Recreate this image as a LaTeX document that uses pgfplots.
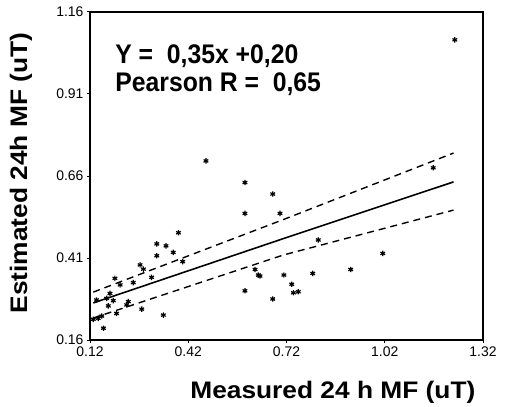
\documentclass[border=0pt]{standalone}
\usepackage{fontspec}
\setmainfont{Liberation Sans}
\newfontfamily\labfont[FakeStretch=1.1]{Liberation Sans Bold}
\newfontfamily\annfont[FakeStretch=0.92]{Liberation Sans Bold}
\usepackage{pgfplots}
\pgfplotsset{compat=1.18}

\pgfplotstableread{
x y
1.234 1.075
0.474 0.706
0.593 0.640
0.678 0.605
0.593 0.546
0.700 0.546
1.168 0.685
0.390 0.487
0.324 0.453
0.352 0.447
0.374 0.427
0.324 0.417
0.403 0.399
0.817 0.465
1.014 0.424
0.273 0.389
0.283 0.376
0.624 0.375
0.634 0.358
0.639 0.355
0.712 0.358
0.800 0.363
0.916 0.375
0.736 0.330
0.741 0.304
0.756 0.307
0.593 0.310
0.678 0.285
0.308 0.351
0.252 0.335
0.196 0.348
0.212 0.328
0.181 0.302
0.171 0.287
0.191 0.280
0.237 0.277
0.140 0.282
0.176 0.264
0.278 0.254
0.344 0.236
0.201 0.241
0.232 0.267
0.145 0.226
0.156 0.233
0.161 0.196
0.130 0.223
}\pts

\begin{document}
\begin{tikzpicture}
\useasboundingbox (-90bp,-67bp) rectangle (424bp,340bp);
\begin{axis}[
    scale only axis,
    width=393bp, height=328bp,
    xmin=0.12, xmax=1.32,
    ymin=0.16, ymax=1.16,
    xtick={0.12,0.42,0.72,1.02,1.32},
    xticklabels={0.12,0.42,0.72,1.02,1.32},
    ytick={0.16,0.41,0.66,0.91,1.16},
    yticklabels={0.16,0.41,0.66,0.91,1.16},
    tick label style={font=\fontsize{14}{15}\selectfont},
    /pgf/number format/assume math mode=true,
    axis line style={line width=1.6pt},
    tick style={line width=1pt, black},
    tick align=outside,
    major tick length=3bp,
    xtick pos=bottom, ytick pos=left,
    xlabel={\labfont\fontsize{24}{26}\selectfont Measured 24 h MF (uT)},
    ylabel={\labfont\fontsize{24}{26}\selectfont Estimated 24h MF (uT)},
    xlabel style={at={(axis description cs:0.618,-0.158)}, anchor=center},
    ylabel style={at={(axis description cs:-0.176,0.509)}, anchor=center, rotate=0},
    clip=false,
]
\addplot[only marks, mark=asterisk, mark size=2.7pt, line width=1.2pt, black] table {\pts};
\addplot[line width=1.6pt, black] coordinates {(0.13,0.273) (0.71,0.469) (1.23,0.642)};
\addplot[line width=1.4pt, black, dash pattern=on 7pt off 5pt] coordinates {(0.13,0.306) (0.71,0.527) (1.23,0.730)};
\addplot[line width=1.4pt, black, dash pattern=on 7pt off 5pt] coordinates {(0.13,0.227) (0.71,0.419) (1.23,0.556)};
\node[anchor=west, inner sep=0pt] at (axis description cs:0.064,0.865) {\annfont\fontsize{27}{29}\selectfont Y =\ \ 0,35x +0,20};
\node[anchor=west, inner sep=0pt] at (axis description cs:0.064,0.780) {\annfont\fontsize{27}{29}\selectfont Pearson R =\ \ 0,65};
\end{axis}
\end{tikzpicture}
\end{document}
